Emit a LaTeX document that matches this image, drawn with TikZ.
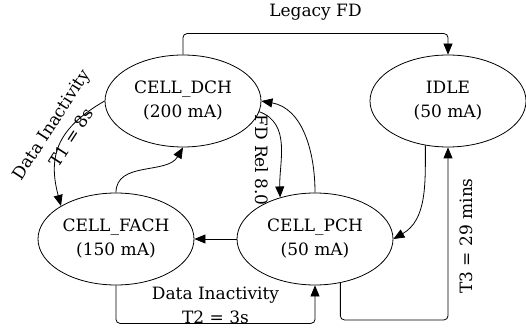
\documentclass[tikz,border=0pt]{standalone}
\usepackage{fontspec}
\setmainfont{DejaVu Serif}
\usetikzlibrary{arrows.meta, shapes.geometric, positioning}

\begin{document}
\begin{tikzpicture}[>={Triangle[length=11pt,width=9pt]}, x=1pt, y=1pt,
        every node/.style={font=\fontsize{17}{24}\selectfont}]
        \tikzstyle{state} = [draw, shape=ellipse, minimum width=156pt, minimum
        height=92pt, inner sep=0pt, align=center, line width=0.8pt]
        \useasboundingbox (0,0) rectangle (526,329);
        %Creating States
        \node [state] at (183,228) (dch) {CELL\_DCH\\(200 mA)};
        \node [state] at (448,228) (idle) {IDLE\\(50 mA)};
        \node [state] at (116,90) (fach) {CELL\_FACH\\(150 mA)};
        \node [state] at (315,90) (pch) {CELL\_PCH\\(50 mA)};
        %Edge labels
        \node [rotate=57, align=center] at (61,198) (t1) {Data Inactivity\\T1 = 8s};
        \node [rotate=-90] at (262,169) (fdrel) {FD Rel 8.0};
        \node [rotate=90] at (466,93) (t3) {T3 = 29 mins};

        %Connecting States
        \begin{scope}[line width=0.8pt, rounded corners=4pt]
            \draw[->] (dch.north) -- ++(0,21) -| node[pos=0.25, yshift=21pt] (legacy) {Legacy FD} (idle.north);
            \draw[->] (dch.west) to[out=210, in=105, looseness=1.2] (fach.149);
            \draw[->] (fach.north) to[out=90, in=240] (dch.south);
            \draw[->] (pch.west) -- (fach.east);
            \draw[->] (dch.-8) to[out=-20, in=92] (pch.130);
            \draw[->] (pch.north) to[out=90, in=-10] (dch.east);
            \draw[->] (idle.243) to[out=-90, in=30] (pch.east);
            \draw[->] (pch.-60) -- ++(0,-37) -| (idle.south);
            \draw[->] (fach.south) -- ++(0,-38) -| node[pos=0.25, yshift=18pt, align=center] (t2) {Data Inactivity\\T2 = 3s} (pch.south);
        \end{scope}
\end{tikzpicture}
\end{document}
